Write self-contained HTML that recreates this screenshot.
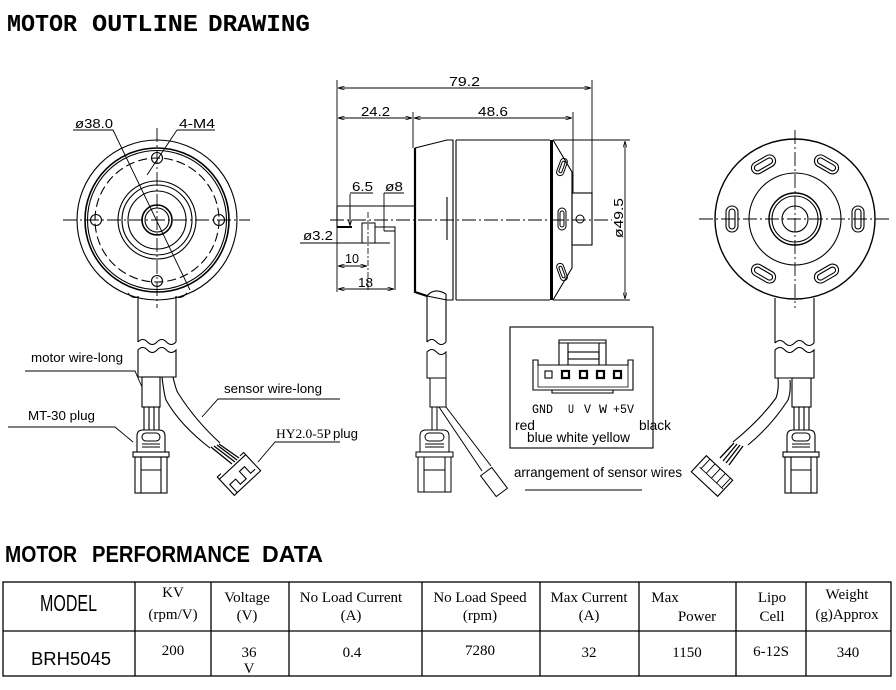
<!DOCTYPE html>
<html><head><meta charset="utf-8"><style>html,body{margin:0;padding:0;background:#fff}svg{display:block}</style></head>
<body>
<svg width="896" height="690" viewBox="0 0 896 690" xmlns="http://www.w3.org/2000/svg" font-family="Liberation Sans, sans-serif">
<defs>
<marker id="ar" viewBox="0 0 10 6" refX="10" refY="3" markerWidth="7" markerHeight="4" orient="auto-start-reverse" markerUnits="userSpaceOnUse"><path d="M0,0 L10,3 L0,6" fill="none" stroke="#000" stroke-width="1"/></marker>
</defs>
<rect width="896" height="690" fill="#fff"/>

<!-- Titles -->
<g font-family="Liberation Mono, monospace" font-weight="bold" font-size="24" fill="#000">
<text x="7" y="31" textLength="70" lengthAdjust="spacingAndGlyphs">MOTOR</text>
<text x="92" y="31" textLength="106" lengthAdjust="spacingAndGlyphs">OUTLINE</text>
<text x="208" y="31" textLength="102" lengthAdjust="spacingAndGlyphs">DRAWING</text>
</g>
<g font-family="Liberation Sans, sans-serif" font-weight="bold" font-size="23" fill="#000">
<text x="5" y="562" textLength="72" lengthAdjust="spacingAndGlyphs">MOTOR</text>
<text x="92" y="562" textLength="158" lengthAdjust="spacingAndGlyphs">PERFORMANCE</text>
<text x="262" y="562" textLength="61" lengthAdjust="spacingAndGlyphs">DATA</text>
</g>

<!-- LEFT VIEW -->
<g fill="none" stroke="#000" stroke-width="1.1">
<circle cx="157" cy="220" r="80"/>
<circle cx="157" cy="220" r="72" stroke-width="1.6"/>
<circle cx="157" cy="220" r="69.5"/>
<circle cx="157" cy="220" r="62" stroke-dasharray="9,4"/>
<circle cx="157" cy="158" r="5.5"/>
<circle cx="96" cy="220" r="5.5"/>
<circle cx="219" cy="220" r="5.5"/>
<circle cx="157" cy="281" r="5.5"/>
<circle cx="157" cy="220" r="39"/>
<circle cx="157" cy="220" r="35"/>
<circle cx="157" cy="220" r="29"/>
<circle cx="157" cy="220" r="15" stroke-width="1.6"/>
<circle cx="157" cy="220" r="12"/>
<path d="M63,220 H250 M157,128 V308" stroke-dasharray="14,3,2,3" stroke-width="0.9"/>
<!-- leaders -->
<path d="M73,130 H113 L190,290" stroke-width="0.9"/>
<path d="M177,130 H215 M177,130 L147,175" stroke-width="0.9"/>
<!-- tabs -->
<path d="M128,293 Q132,299 138,297 M176,297 Q182,299 187,293"/>
<!-- cable -->
<path d="M138,296 V342 M176,296 V342"/>
<path d="M138,342 Q142.75,337 147.5,342 T157,342 T166.5,342 T176,342"/>
<path d="M138,350 Q142.75,345 147.5,350 T157,350 T166.5,350 T176,350 V377 H138 Z"/>
<rect x="142" y="377" width="18" height="30"/>
<path d="M144,407 V430 M149,407 V430 M154,407 V430 M159,407 V430"/>
<!-- plug -->
<path d="M137,452 V436 Q137,430 143,430 H159 Q165,430 165,436 V452"/>
<rect x="142" y="433" width="18" height="8" rx="4"/>
<path d="M142,444 H160 M142,447 H160"/>
<rect x="133" y="452" width="36" height="5"/>
<rect x="135" y="457" width="32" height="36"/>
<path d="M141,457 V493 M161,457 V493 M141,470 H161"/>
<!-- sensor wire -->
<path d="M162,377 Q164,394 166,400 Q180,425 210,448"/>
<path d="M173,377 Q176,390 178,393 Q195,420 220,443"/>
<path d="M211,447 L232,464 M214,446 L235,462 M217,445 L237,460 M219,444 L239,458" stroke-width="1.3"/>
<g transform="translate(240,475) rotate(-43)">
<rect x="-18" y="-11" width="36" height="22"/>
<path d="M-14,11 V0 H-6 V7 H2 V-3 H9 V6 H15"/>
<path d="M-18,-11 V-14 H-13 M18,-11 V-14 H13"/>
</g>
<!-- label leaders -->
<path d="M25,371 H135 L142,387" stroke-width="0.9"/>
<path d="M8,427 H115 L133,442" stroke-width="0.9"/>
<path d="M340,399 H218 L202,417" stroke-width="0.9"/>
<path d="M340,442 H275 L258,462" stroke-width="0.9"/>
</g>
<g font-size="13" fill="#000">
<text x="75" y="128" textLength="38" lengthAdjust="spacingAndGlyphs">ø38.0</text>
<text x="179" y="128" textLength="36" lengthAdjust="spacingAndGlyphs">4-M4</text>
<text x="31" y="362" textLength="92" lengthAdjust="spacingAndGlyphs">motor wire-long</text>
<text x="28" y="420" textLength="67" lengthAdjust="spacingAndGlyphs">MT-30 plug</text>
<text x="224" y="393" textLength="98" lengthAdjust="spacingAndGlyphs">sensor wire-long</text>
<text x="276" y="438" font-family="Liberation Serif, serif" textLength="55" lengthAdjust="spacingAndGlyphs">HY2.0-5P</text>
<text x="333" y="438" textLength="25" lengthAdjust="spacingAndGlyphs">plug</text>
</g>

<!-- MIDDLE VIEW -->
<g fill="none" stroke="#000" stroke-width="1">
<!-- dims -->
<path d="M337,80 V292 M592,80 V193 M413,112 V148 M573,112 V193" stroke-width="0.9"/>
<path d="M338,88 H591" marker-start="url(#ar)" marker-end="url(#ar)" stroke-width="0.9"/>
<path d="M338,118 H412" marker-start="url(#ar)" marker-end="url(#ar)" stroke-width="0.9"/>
<path d="M414,118 H572" marker-start="url(#ar)" marker-end="url(#ar)" stroke-width="0.9"/>
<path d="M553,140 H630 M553,300 H630" stroke-width="0.9"/>
<path d="M625,141 V299" marker-start="url(#ar)" marker-end="url(#ar)" stroke-width="0.9"/>
<!-- body -->
<path d="M415,148 L447,140 H453 V300 H447 L427,296" stroke-width="1.1"/>
<path d="M415,148 V292 L427,296" stroke-width="2.2"/>
<path d="M456,140 H550 M456,300 H550 M456,140 V300" stroke-width="1.1"/>
<path d="M447,197 V240" stroke-width="1.1"/>
<path d="M551.5,140 V300" stroke-width="3"/>
<path d="M553,140 L572,172 V268 L553,300" stroke-width="1.1"/>
<g transform="translate(562,167) rotate(20)"><rect x="-3.5" y="-9" width="7" height="18" rx="3.5"/><rect x="-1.5" y="-6" width="3" height="12" rx="1.5"/></g>
<g transform="translate(562,219)"><rect x="-4" y="-11" width="8" height="22" rx="4"/><rect x="-2" y="-8" width="4" height="16" rx="2"/></g>
<g transform="translate(562,272) rotate(-20)"><rect x="-3.5" y="-9" width="7" height="18" rx="3.5"/><rect x="-1.5" y="-6" width="3" height="12" rx="1.5"/></g>
<rect x="572" y="193" width="20" height="52" stroke-width="1.1"/>
<circle cx="580" cy="219" r="4"/>
<path d="M330,220 H612" stroke-dasharray="14,3,2,3" stroke-width="0.9"/>
<!-- shaft -->
<path d="M337,206 H415 M337,206 V227" stroke-width="1.1"/>
<path d="M337,227 H352" stroke-width="2"/>
<path d="M375,227 H395 V290 M384,231 H395" stroke-width="1"/>
<rect x="362" y="223" width="13" height="20"/>
<path d="M368,212 V290" stroke-dasharray="6,2,2,2" stroke-width="0.8"/>
<path d="M350,193 H373 M350,194 V226" stroke-width="0.9"/>
<path d="M350,208 V226" marker-end="url(#ar)" stroke-width="0.9"/>
<path d="M384,193 H404 M384,193 V231" stroke-width="0.9"/>
<path d="M300,243 H390" stroke-width="0.9"/>
<path d="M338,266 H367" marker-start="url(#ar)" marker-end="url(#ar)" stroke-width="0.9"/>
<path d="M338,289 H394" marker-start="url(#ar)" marker-end="url(#ar)" stroke-width="0.9"/>
<!-- cable -->
<path d="M427,296 Q434,287 446,294 M427,296 V342 M446,294 V342" stroke-width="1.1"/>
<path d="M427,342 Q431.75,337 436.5,342 T446,342"/>
<path d="M427,352 Q431.75,347 436.5,352 T446,352 V378 H427 Z"/>
<rect x="430" y="378" width="16" height="29"/>
<path d="M432,407 V430 M437,407 V430"/>
<path d="M439,407 L482,471 M446,407 L491,466"/>
<g transform="translate(494,482) rotate(53)"><rect x="-13" y="-7" width="26" height="14"/></g>
<!-- plug -->
<path d="M420,452 V436 Q420,430 426,430 H443 Q449,430 449,436 V452"/>
<rect x="425" y="433" width="19" height="8" rx="4"/>
<path d="M425,444 H444 M425,447 H444"/>
<rect x="416" y="452" width="37" height="5"/>
<rect x="418" y="457" width="33" height="35"/>
<path d="M424,457 V492 M445,457 V492 M424,470 H445"/>
</g>
<g font-size="13" fill="#000">
<text x="449" y="86" textLength="31" lengthAdjust="spacingAndGlyphs">79.2</text>
<text x="361" y="116" textLength="29" lengthAdjust="spacingAndGlyphs">24.2</text>
<text x="478" y="116" textLength="30" lengthAdjust="spacingAndGlyphs">48.6</text>
<text x="352" y="191" textLength="21" lengthAdjust="spacingAndGlyphs">6.5</text>
<text x="385" y="191" textLength="18" lengthAdjust="spacingAndGlyphs">ø8</text>
<text x="303" y="240" textLength="30" lengthAdjust="spacingAndGlyphs">ø3.2</text>
<text x="345" y="263" textLength="14" lengthAdjust="spacingAndGlyphs">10</text>
<text x="358" y="287" textLength="15" lengthAdjust="spacingAndGlyphs">18</text>
<text x="0" y="0" transform="translate(623,218) rotate(-90)" text-anchor="middle" textLength="40" lengthAdjust="spacingAndGlyphs">ø49.5</text>
</g>

<!-- SENSOR BOX -->
<g fill="none" stroke="#000" stroke-width="1.1">
<rect x="510" y="327" width="143" height="121"/>
<path d="M533,390 V360 H538 V365 H628 V360 H633 V390 Z"/>
<path d="M538,365 V387 H628 V365" stroke-width="0.8"/>
<path d="M552,390 V393 H613 V390"/>
<path d="M559,365 V340 H606 V365 M559,343 H606 M568,343 V365 M599,343 V365"/>
<rect x="568" y="352" width="31" height="7"/>
<rect x="545" y="371" width="7" height="7"/>
<rect x="562" y="371" width="7" height="7" stroke-width="2.2"/>
<rect x="580" y="371" width="7" height="7" stroke-width="2.2"/>
<rect x="597" y="371" width="7" height="7" stroke-width="2.2"/>
<rect x="614" y="371" width="7" height="7" stroke-width="2.2"/>
<path d="M525,490 H642"/>
</g>
<g fill="#000">
<g font-family="Liberation Mono, monospace" font-size="13">
<text x="532" y="413" textLength="21" lengthAdjust="spacingAndGlyphs">GND</text>
<text x="568" y="413" textLength="6" lengthAdjust="spacingAndGlyphs">U</text>
<text x="584" y="413" textLength="7" lengthAdjust="spacingAndGlyphs">V</text>
<text x="599" y="413" textLength="8" lengthAdjust="spacingAndGlyphs">W</text>
<text x="613" y="413" textLength="21" lengthAdjust="spacingAndGlyphs">+5V</text>
</g>
<g font-size="14">
<text x="515" y="430" textLength="20" lengthAdjust="spacingAndGlyphs">red</text>
<text x="639" y="430" textLength="32" lengthAdjust="spacingAndGlyphs">black</text>
<text x="527" y="442" textLength="103" lengthAdjust="spacingAndGlyphs">blue white yellow</text>
<text x="514" y="477" textLength="168" lengthAdjust="spacingAndGlyphs">arrangement of sensor wires</text>
</g>
</g>

<!-- RIGHT VIEW -->
<g fill="none" stroke="#000" stroke-width="1.1">
<circle cx="795" cy="219" r="80" stroke-width="1.4"/>
<circle cx="795" cy="219" r="46"/>
<circle cx="795" cy="219" r="26" stroke-width="1.4"/>
<circle cx="795" cy="219" r="23"/>
<circle cx="795" cy="219" r="13"/>
<path d="M699,219 H891 M795,130 V308" stroke-dasharray="14,3,2,3" stroke-width="0.9"/>
<g transform="translate(858,219) rotate(90)"><rect x="-13" y="-6" width="26" height="12" rx="6"/><rect x="-10" y="-3" width="20" height="6" rx="3"/></g>
<g transform="translate(826.5,273.6) rotate(150)"><rect x="-13" y="-6" width="26" height="12" rx="6"/><rect x="-10" y="-3" width="20" height="6" rx="3"/></g>
<g transform="translate(763.5,273.6) rotate(210)"><rect x="-13" y="-6" width="26" height="12" rx="6"/><rect x="-10" y="-3" width="20" height="6" rx="3"/></g>
<g transform="translate(732,219) rotate(270)"><rect x="-13" y="-6" width="26" height="12" rx="6"/><rect x="-10" y="-3" width="20" height="6" rx="3"/></g>
<g transform="translate(763.5,164.4) rotate(330)"><rect x="-13" y="-6" width="26" height="12" rx="6"/><rect x="-10" y="-3" width="20" height="6" rx="3"/></g>
<g transform="translate(826.5,164.4) rotate(30)"><rect x="-13" y="-6" width="26" height="12" rx="6"/><rect x="-10" y="-3" width="20" height="6" rx="3"/></g>
<!-- cable -->
<path d="M775,298 V343 M814,298 V343"/>
<path d="M775,343 Q779.9,338 784.75,343 T794.5,343 T804.25,343 T814,343"/>
<path d="M775,350 Q779.9,345 784.75,350 T794.5,350 T804.25,350 T814,350 V378 H775 Z"/>
<rect x="792" y="378" width="19" height="29"/>
<path d="M794,407 V430 M799,407 V430 M804,407 V430 M809,407 V430"/>
<path d="M778,378 Q779,390 776,398 Q760,420 733,442"/>
<path d="M790,380 Q791,392 788,400 Q772,425 748,445"/>
<path d="M734,443 L720,458 M737,444 L723,461 M740,445 L726,463 M743,446 L729,465" stroke-width="1.3"/>
<g transform="translate(712,476) rotate(43)">
<rect x="-18" y="-11" width="36" height="22"/>
<path d="M-13,-11 V2 M-6,-11 V2 M1,-11 V2 M8,-11 V2 M15,-11 V2 M-15,2 H17" stroke-width="0.9"/>
</g>
<!-- plug -->
<path d="M787,452 V436 Q787,430 793,430 H809 Q815,430 815,436 V452"/>
<rect x="792" y="433" width="18" height="8" rx="4"/>
<path d="M792,444 H810 M792,447 H810"/>
<rect x="783" y="452" width="36" height="5"/>
<rect x="785" y="457" width="32" height="36"/>
<path d="M791,457 V493 M811,457 V493 M791,470 H811"/>
</g>

<!-- TABLE -->
<g fill="none" stroke="#000" stroke-width="1.3">
<rect x="3" y="582" width="888" height="94"/>
<path d="M3,631 H891 M135,582 V676 M211,582 V676 M289,582 V676 M422,582 V676 M540,582 V676 M639,582 V676 M736,582 V676 M806,582 V676"/>
</g>
<text x="40" y="611" font-family="Liberation Sans Narrow, Liberation Sans, sans-serif" font-size="23" textLength="57" lengthAdjust="spacingAndGlyphs">MODEL</text>
<text x="31" y="665" font-size="18" textLength="80" lengthAdjust="spacingAndGlyphs">BRH5045</text>
<g font-family="Liberation Serif, serif" font-size="15" fill="#000" text-anchor="middle">
<text x="173" y="597">KV</text>
<text x="173" y="619">(rpm/V)</text>
<text x="247" y="602">Voltage</text>
<text x="247" y="620">(V)</text>
<text x="351" y="602">No Load Current</text>
<text x="351" y="620">(A)</text>
<text x="480" y="602">No Load Speed</text>
<text x="480" y="620">(rpm)</text>
<text x="589" y="602">Max Current</text>
<text x="589" y="620">(A)</text>
<text x="665" y="602">Max</text>
<text x="697" y="621">Power</text>
<text x="772" y="602">Lipo</text>
<text x="772" y="621">Cell</text>
<text x="847" y="599">Weight</text>
<text x="847" y="619">(g)Approx</text>
<text x="173" y="655">200</text>
<text x="249" y="657">36</text>
<text x="249" y="673">V</text>
<text x="352" y="657">0.4</text>
<text x="480" y="655">7280</text>
<text x="589" y="657">32</text>
<text x="687" y="657">1150</text>
<text x="771" y="656">6-12S</text>
<text x="848" y="657">340</text>
</g>
</svg>
</body></html>
